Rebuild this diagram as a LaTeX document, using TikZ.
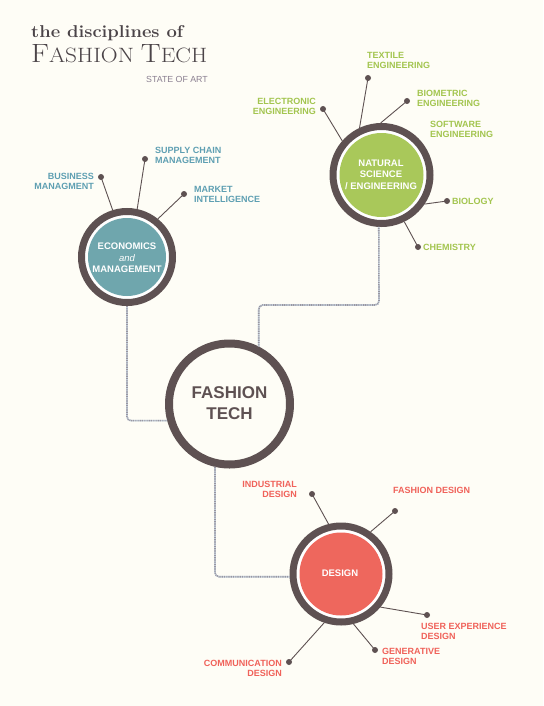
\documentclass[tikz,border=0pt]{standalone}
\usepackage{fontspec}
\newfontfamily\labfont{Liberation Sans}
\definecolor{bgc}{HTML}{FEFDF6}
\definecolor{ringc}{HTML}{5E5152}
\definecolor{tealfill}{HTML}{6FA6AD}
\definecolor{tealtxt}{HTML}{5E9FB2}
\definecolor{greenfill}{HTML}{A9C85A}
\definecolor{greentxt}{HTML}{A3C54F}
\definecolor{redfill}{HTML}{EE675D}
\definecolor{redtxt}{HTML}{F0625A}
\definecolor{connc}{HTML}{9A96A0}
\definecolor{connb}{HTML}{C8D6E2}
\definecolor{titc}{HTML}{4B4448}
\definecolor{statec}{HTML}{8A7F90}
\begin{document}
\begin{tikzpicture}[x=1pt,y=-1pt,
  ringnode/.style={circle, draw=ringc, line width=7pt, fill=white, inner sep=0pt},
  dotnode/.style={circle, fill=ringc, inner sep=0pt, minimum size=6pt},
  spoke/.style={draw=ringc, line width=0.9pt},
  conn/.style={draw=connc, line width=1.6pt, dash pattern=on 0.9pt off 0.9pt, rounded corners=4pt,
    preaction={draw=connb, line width=1.6pt, rounded corners=4pt}},
  lab/.style={font=\labfont\bfseries\fontsize{9}{10}\selectfont, inner sep=0pt},
  intext/.style={font=\labfont\bfseries\fontsize{9.5}{11.5}\selectfont, text=white, align=center, inner sep=0pt}]
\fill[bgc] (0,0) rectangle (543,706);
\useasboundingbox (0,0) rectangle (543,706);

% title
\node[anchor=base west, inner sep=0pt, text=titc] (t1) at (31,38)
  {\resizebox{152pt}{12pt}{\bfseries\fontsize{19}{19}\selectfont the disciplines of}};
\node[anchor=base west, inner sep=0pt, text=titc] (t2) at (31,63)
  {\resizebox{176pt}{18pt}{\fontsize{28}{28}\selectfont F\fontsize{22}{22}\selectfont ASHION \fontsize{28}{28}\selectfont T\fontsize{22}{22}\selectfont ECH}};
\node[anchor=base west, inner sep=0pt, text=statec, font=\labfont\fontsize{8.8}{9}\selectfont] (t3) at (146,83) {STATE OF ART};

% rings
\node[ringnode, minimum size=91pt] (eco) at (127,257) {};
\node[ringnode, minimum size=97pt] (nat) at (381.5,175) {};
\node[ringnode, minimum size=96pt] (des) at (341,574) {};
\node[ringnode, minimum size=121pt, line width=8pt, fill=bgc] (ft) at (229.5,404) {};
\fill[tealfill] (eco.center) circle (39pt);
\fill[greenfill] (nat.center) circle (42pt);
\fill[redfill] (des.center) circle (41.5pt);

% inner texts
\node[intext] (ecot) at (127,258) {ECONOMICS\\{\mdseries\itshape and}\\MANAGEMENT};
\node[intext] (natt) at (381,174.5) {NATURAL\\SCIENCE\\/ ENGINEERING};
\node[intext] (dest) at (340,573) {DESIGN};
\node[font=\labfont\bfseries\fontsize{17}{21}\selectfont, text=ringc, align=center, inner sep=0pt] (ftt) at (229.5,403.5) {FASHION\\TECH};

% connectors
\coordinate (k2) at (379,305);
\draw[conn] (eco.south) |- (ft.195);
\draw[conn] (ft.63) |- (k2) -- (nat.267);
\draw[conn] (ft.257) |- (des.183);

% economics spokes
\node[dotnode] (bd) at (101,177) {};
\node[dotnode] (sd) at (145,159) {};
\node[dotnode] (md) at (184,194) {};
\draw[spoke] (bd.center) -- (eco.107);
\draw[spoke] (sd.center) -- (eco.78);
\draw[spoke] (md.center) -- (eco.51);
\node[lab, text=tealtxt, align=right, anchor=north east] (bl) at (94,173) {BUSINESS\\MANAGMENT};
\node[lab, text=tealtxt, align=left, anchor=north west] (sl) at (155,147.5) {SUPPLY CHAIN\\MANAGEMENT};
\node[lab, text=tealtxt, align=left, anchor=north west] (ml) at (194,186) {MARKET\\INTELLIGENCE};

% natural science spokes
\node[dotnode] (td) at (368,78) {};
\node[dotnode] (bid) at (407,101) {};
\node[dotnode] (ed) at (323,109) {};
\node[dotnode] (biod) at (447,201) {};
\node[dotnode] (cd) at (418,247) {};
\draw[spoke] (td.center) -- (nat.115);
\draw[spoke] (bid.center) -- (nat.91);
\draw[spoke] (ed.center) -- (nat.139);
\draw[spoke] (biod.center) -- (nat.-34);
\draw[spoke] (cd.center) -- (nat.-64);
\node[lab, text=greentxt, align=left, anchor=north west] (tl) at (367,52.5) {TEXTILE\\ENGINEERING};
\node[lab, text=greentxt, align=left, anchor=north west] (bil) at (417,90.5) {BIOMETRIC\\ENGINEERING};
\node[lab, text=greentxt, align=right, anchor=north east] (el) at (316,98.5) {ELECTRONIC\\ENGINEERING};
\node[lab, text=greentxt, align=left, anchor=north west] (sol) at (430,121.5) {SOFTWARE\\ENGINEERING};
\node[lab, text=greentxt, anchor=west] (biol) at (452,201) {BIOLOGY};
\node[lab, text=greentxt, anchor=west] (cl) at (423,247) {CHEMISTRY};

% design spokes
\node[dotnode] (id) at (312,494) {};
\node[dotnode] (fd) at (395,511) {};
\node[dotnode] (ud) at (427,615) {};
\node[dotnode] (gd) at (375,650) {};
\node[dotnode] (comd) at (289,662) {};
\draw[spoke] (id.center) -- (des.104);
\draw[spoke] (fd.center) -- (des.55);
\draw[spoke] (ud.center) -- (des.-40);
\draw[spoke] (gd.center) -- (des.-76);
\draw[spoke] (comd.center) -- (des.-109);
\node[lab, text=redtxt, align=right, anchor=north east] (il) at (297,481.5) {INDUSTRIAL\\DESIGN};
\node[lab, text=redtxt, anchor=west] (fl) at (393,490) {FASHION DESIGN};
\node[lab, text=redtxt, align=left, anchor=north west] (ul) at (421,623.5) {USER EXPERIENCE\\DESIGN};
\node[lab, text=redtxt, align=left, anchor=north west] (gl) at (382,648.5) {GENERATIVE\\DESIGN};
\node[lab, text=redtxt, align=right, anchor=north east] (coml) at (282,660.5) {COMMUNICATION\\DESIGN};
\end{tikzpicture}
\end{document}
